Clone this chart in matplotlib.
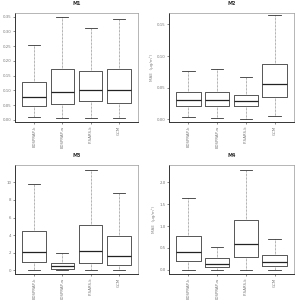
import matplotlib
matplotlib.use('Agg')
from matplotlib import pyplot as plt

models = ['EDSPRAP-k', 'EDSPRAP-w', 'P-SARS-k', 'GCM']

# whislo, q1, med, q3, whishi per model
m1_lo = [0.009, 0.006, 0.006, 0.006]
m1_q1 = [0.048, 0.055, 0.064, 0.059]
m1_med = [0.076, 0.094, 0.102, 0.100]
m1_q3 = [0.130, 0.174, 0.164, 0.174]
m1_hi = [0.255, 0.347, 0.312, 0.342]

m2_lo = [0.004, 0.003, 0.001, 0.006]
m2_q1 = [0.0205, 0.0205, 0.0205, 0.036]
m2_med = [0.030, 0.031, 0.029, 0.056]
m2_q3 = [0.043, 0.044, 0.039, 0.088]
m2_hi = [0.077, 0.079, 0.067, 0.165]

m3_lo = [0.0, 0.0, 0.0, 0.0]
m3_q1 = [0.94, 0.22, 0.90, 0.60]
m3_med = [2.07, 0.45, 2.18, 1.62]
m3_q3 = [4.51, 0.90, 5.19, 3.95]
m3_hi = [9.81, 2.00, 11.39, 8.80]

m4_lo = [0.0, 0.0, 0.0, 0.0]
m4_q1 = [0.20, 0.06, 0.30, 0.08]
m4_med = [0.40, 0.13, 0.58, 0.17]
m4_q3 = [0.77, 0.26, 1.13, 0.33]
m4_hi = [1.64, 0.53, 2.29, 0.71]

panels = [
    ('M1', '', (m1_lo, m1_q1, m1_med, m1_q3, m1_hi), (-0.007, 0.362), [0, 0.05, 0.10, 0.15, 0.20, 0.25, 0.30, 0.35], '%.2f'),
    ('M2', 'MAE  (\u00b5g/m\u00b3)', (m2_lo, m2_q1, m2_med, m2_q3, m2_hi), (-0.004, 0.168), [0, 0.05, 0.10, 0.15], '%.2f'),
    ('M3', '', (m3_lo, m3_q1, m3_med, m3_q3, m3_hi), (-0.4, 11.95), [0, 2, 4, 6, 8, 10], '%d'),
    ('M4', 'MAE  (\u00b5g/m\u00b3)', (m4_lo, m4_q1, m4_med, m4_q3, m4_hi), (-0.1, 2.4), [0, 0.5, 1.0, 1.5, 2.0], '%.1f'),
]

rects = [
    [15/296, 1 - 122/300, 123/296, 109/300],
    [169/296, 1 - 122/300, 125/296, 109/300],
    [15/296, 1 - 274/300, 123/296, 109/300],
    [169/296, 1 - 274/300, 125/296, 109/300],
]

fig = plt.figure(figsize=(2.96, 3.0), dpi=100)

for (title, ylab, vals, ylim, yt, fmt), r in zip(panels, rects):
    ax = fig.add_axes(r)
    lo, q1, med, q3, hi = vals
    stats = []
    for i in range(len(models)):
        stats.append({'whislo': lo[i], 'q1': q1[i], 'med': med[i],
                      'q3': q3[i], 'whishi': hi[i], 'fliers': [], 'label': models[i]})
    ax.bxp(stats, showfliers=False, widths=0.84,
           boxprops=dict(color='#555555', linewidth=0.7),
           medianprops=dict(color='#222222', linewidth=0.9),
           whiskerprops=dict(color='#666666', linewidth=0.5, linestyle=(0, (1, 1))),
           capprops=dict(color='#333333', linewidth=0.6))
    ax.set_ylim(*ylim)
    ax.set_xlim(0.32, 4.68)
    ax.set_yticks(yt)
    ax.set_yticklabels([fmt % v for v in yt])
    ax.set_xticks(range(1, len(models) + 1))
    ax.set_xticklabels(models, rotation=90)
    ax.tick_params(labelsize=2.8, length=1.5, width=0.4, pad=1, colors='#333333', labelcolor='#777777')
    for s in ['top', 'right']:
        ax.spines[s].set_color('#999999')
        ax.spines[s].set_linewidth(0.5)
    for s in ['left', 'bottom']:
        ax.spines[s].set_color('#333333')
        ax.spines[s].set_linewidth(0.7)
    ax.set_title(title, fontsize=3.5, fontweight='bold', pad=6, color='#333333')
    if ylab:
        ax.set_ylabel(ylab, fontsize=3, color='#888888', labelpad=2)

fig.savefig('out.png', dpi=100)
